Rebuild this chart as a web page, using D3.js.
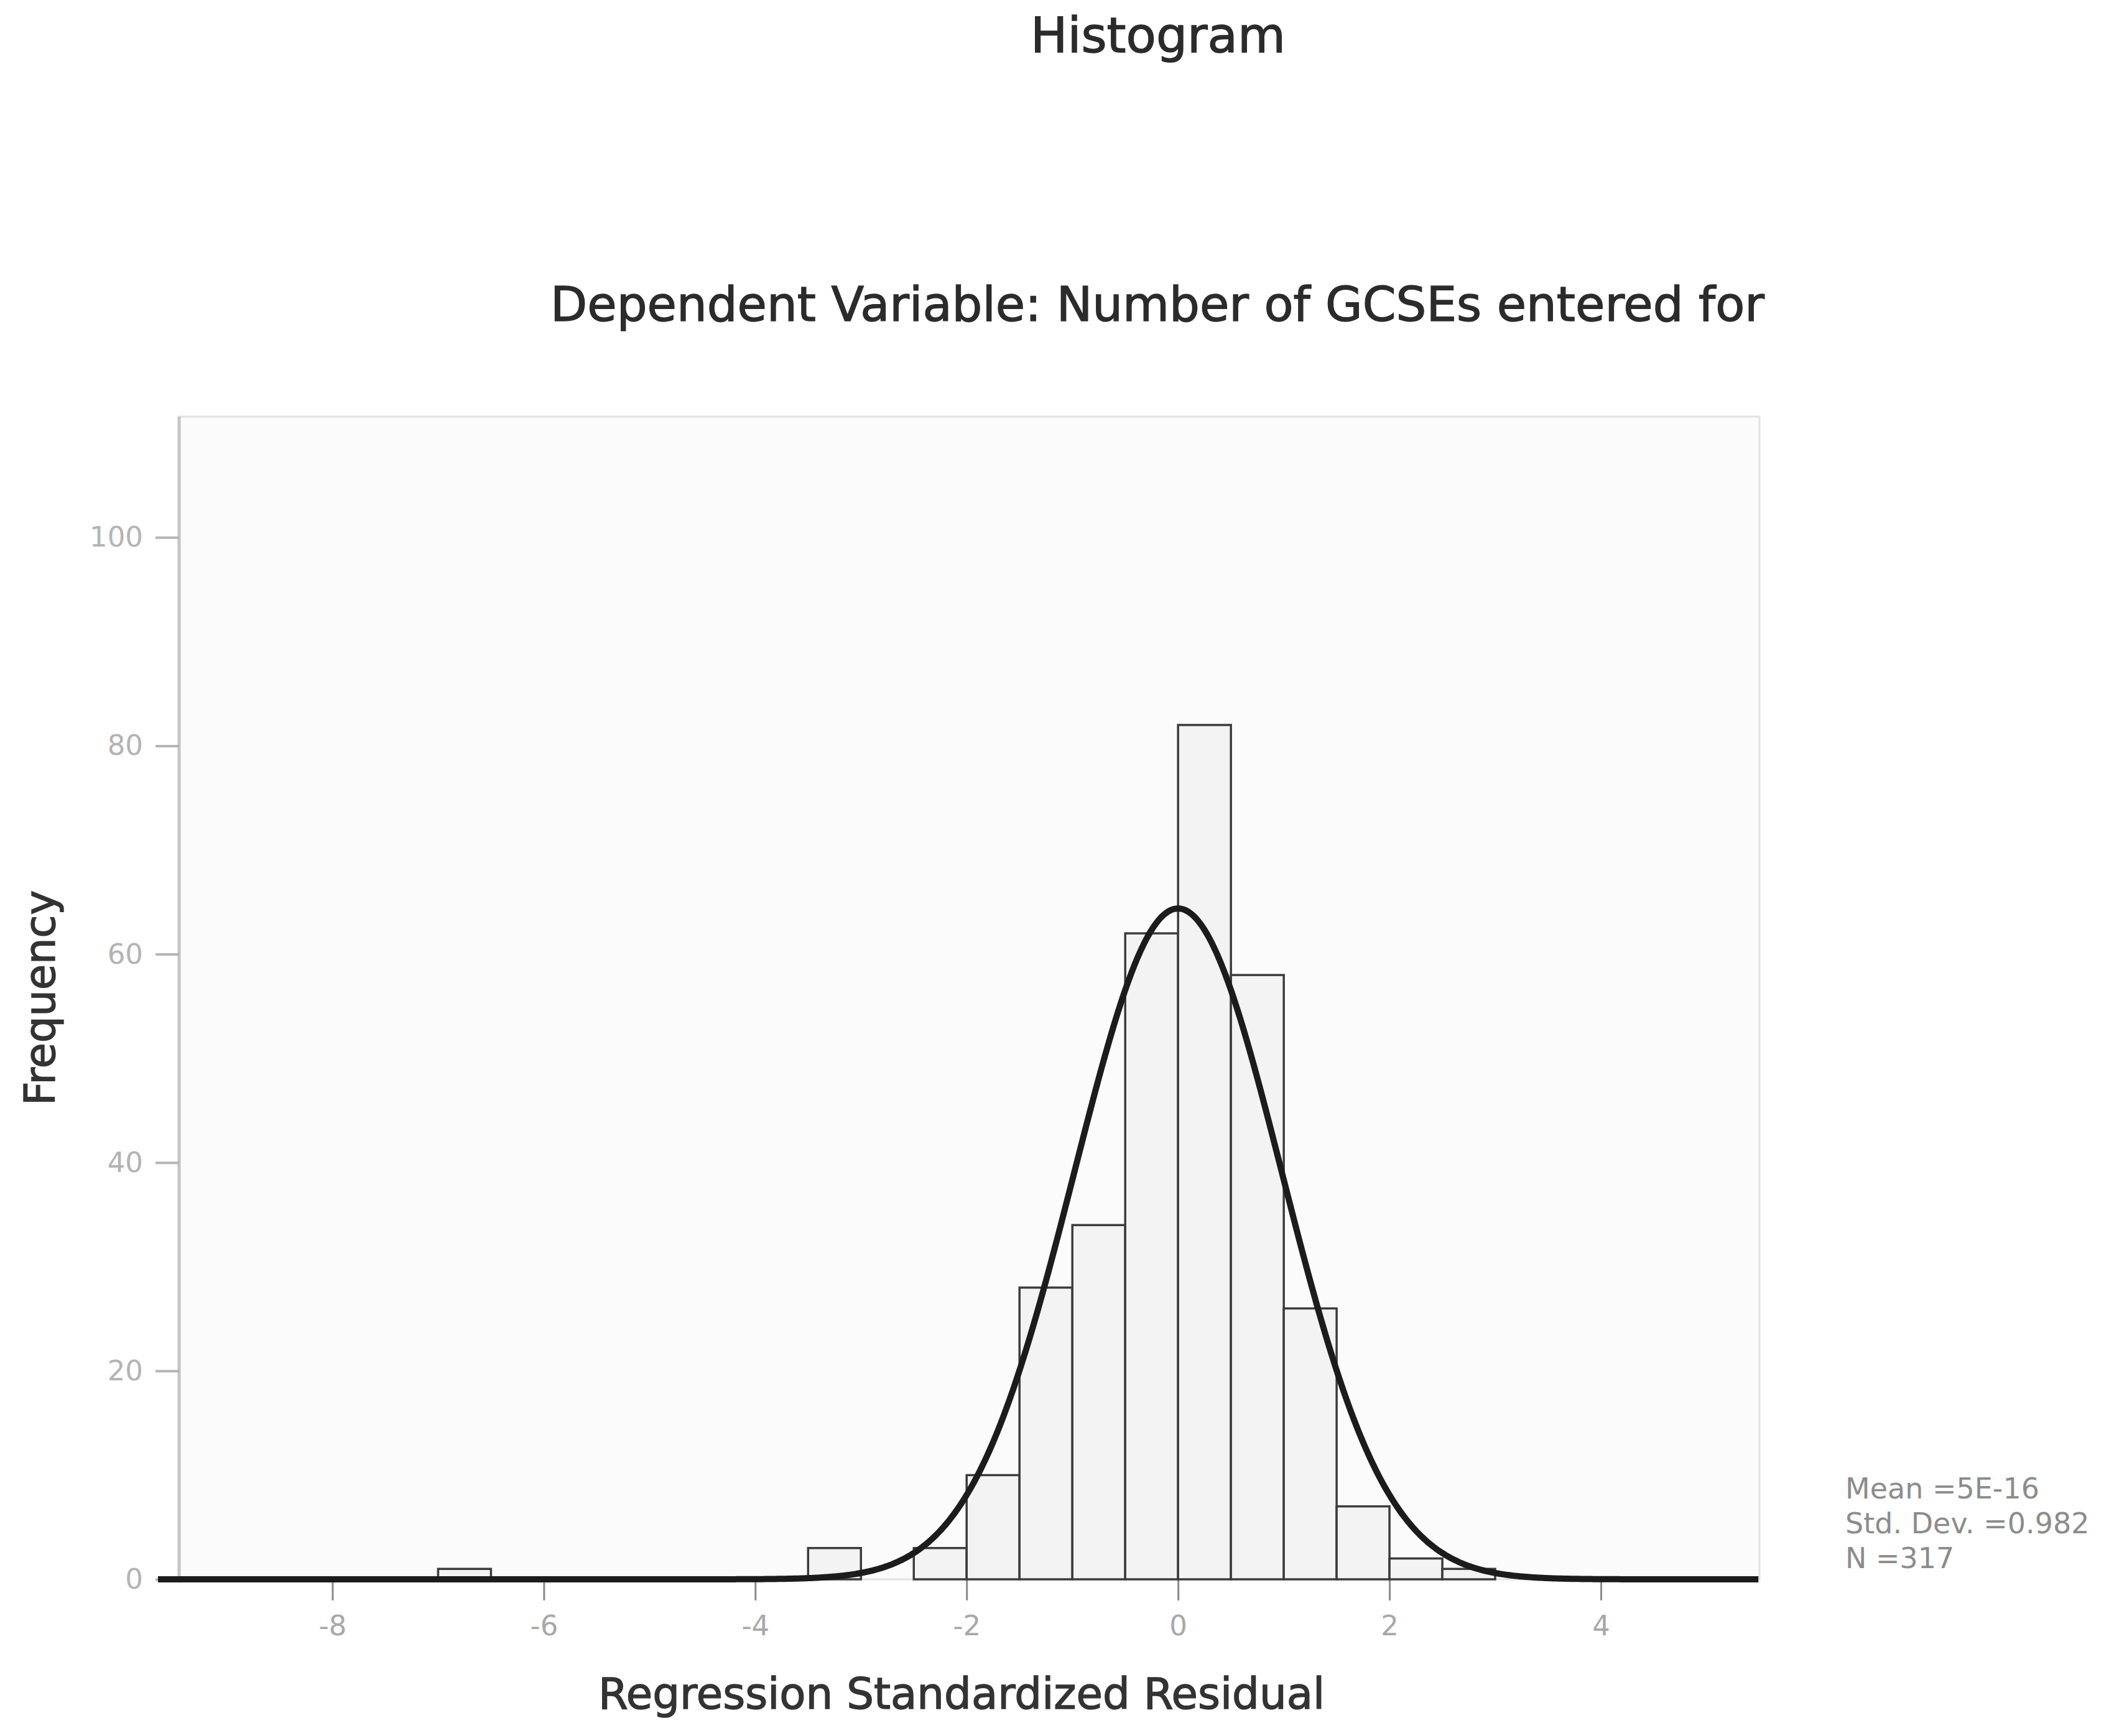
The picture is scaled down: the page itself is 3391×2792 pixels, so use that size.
<!DOCTYPE html>
<html>
<head>
<meta charset="utf-8">
<script src="https://cdn.jsdelivr.net/npm/d3@7"></script>
<style>
  html, body { margin: 0; padding: 0; background: #ffffff; }
  svg { display: block; }
  text { font-family: "DejaVu Sans", Verdana, sans-serif; }
</style>
</head>
<body>
<svg id="chart" width="3391" height="2792"></svg>
<script>
// Residual histogram: bins of width 0.5, counts per bin
const binStart = [-7, -3.5, -2.5, -2, -1.5, -1, -0.5, 0, 0.5, 1, 1.5, 2, 2.5];
const binCount = [1, 3, 3, 10, 28, 34, 62, 82, 58, 26, 7, 2, 1];
const binWidth = 0.5;

// Summary statistics shown beside the plot
const statMean = 5e-16;
const statSD = 0.982;
const statN = 317;
const statLines = ["Mean =5E-16", "Std. Dev. =0.982", "N =317"];

// Axis ticks
const xTicks = [-8, -6, -4, -2, 0, 2, 4];
const yTicks = [0, 20, 40, 60, 80, 100];

const titleText = "Histogram";
const subtitleText = "Dependent Variable: Number of GCSEs entered for";
const xTitle = "Regression Standardized Residual";
const yTitle = "Frequency";

const frame = { left: 288, right: 2829, top: 670, bottom: 2540 };

const svg = d3.select("#chart");

const x = d3.scaleLinear().domain([-9.45, 5.5]).range([frame.left, frame.right]);
const y = d3.scaleLinear().domain([0, 111.6]).range([frame.bottom, frame.top]);

// Titles (slight stroke gives the medium weight of the heading font)
function heading(sel) {
  return sel.attr("fill", "#2b2b2b").attr("stroke", "#2b2b2b").attr("stroke-width", 1.4);
}

heading(svg.append("text")
  .attr("x", 1862).attr("y", 84)
  .attr("text-anchor", "middle")
  .attr("font-size", 79))
  .text(titleText);

heading(svg.append("text")
  .attr("x", 1861).attr("y", 516)
  .attr("text-anchor", "middle")
  .attr("font-size", 77))
  .text(subtitleText);

// Plot frame
svg.append("rect")
  .attr("x", frame.left).attr("y", frame.top)
  .attr("width", frame.right - frame.left)
  .attr("height", frame.bottom - frame.top)
  .attr("fill", "#fbfbfb")
  .attr("stroke", "#e2e2e2")
  .attr("stroke-width", 3);

// Left axis line
svg.append("line")
  .attr("x1", frame.left).attr("x2", frame.left)
  .attr("y1", frame.top).attr("y2", frame.bottom)
  .attr("stroke", "#c4c4c4").attr("stroke-width", 5);

// Y axis
const yAxis = svg.append("g")
  .attr("transform", `translate(${frame.left},0)`)
  .call(d3.axisLeft(y).tickValues(yTicks).tickSize(38).tickPadding(20).tickFormat(d => String(d)));
yAxis.select(".domain").remove();
yAxis.selectAll(".tick line").attr("stroke", "#b5b5b5").attr("stroke-width", 4);
yAxis.selectAll(".tick text")
  .attr("font-size", 45).attr("fill", "#b3b3b3")
  .style("font-family", "\"DejaVu Sans\", sans-serif");

// X axis
const xAxis = svg.append("g")
  .attr("transform", `translate(0,${frame.bottom})`)
  .call(d3.axisBottom(x).tickValues(xTicks).tickSize(34).tickPadding(24).tickFormat(d => d < 0 ? "-" + Math.abs(d) : String(d)));
xAxis.select(".domain").remove();
xAxis.selectAll(".tick line").attr("stroke", "#8a8a8a").attr("stroke-width", 3);
xAxis.selectAll(".tick text")
  .attr("font-size", 45).attr("fill", "#a8a8a8")
  .style("font-family", "\"DejaVu Sans\", sans-serif");

// Axis titles
heading(svg.append("text")
  .attr("x", 1546).attr("y", 2748)
  .attr("text-anchor", "middle")
  .attr("font-size", 69))
  .attr("fill", "#333333").attr("stroke", "#333333")
  .text(xTitle);

heading(svg.append("text")
  .attr("transform", `translate(88,${(frame.top + frame.bottom) / 2}) rotate(-90)`)
  .attr("text-anchor", "middle")
  .attr("font-size", 67))
  .attr("fill", "#333333").attr("stroke", "#333333")
  .text(yTitle);

// Bars
const bins = binStart.map((s, i) => ({ x0: s, x1: s + binWidth, n: binCount[i] }));
svg.append("g").selectAll("rect")
  .data(bins)
  .join("rect")
  .attr("x", d => x(d.x0))
  .attr("y", d => y(d.n))
  .attr("width", d => x(d.x1) - x(d.x0))
  .attr("height", d => y(0) - y(d.n))
  .attr("fill", "#f3f3f3")
  .attr("stroke", "#3c3c3c")
  .attr("stroke-width", 3.5);

// Normal curve scaled to counts: N * binWidth * pdf(x)
const pdf = v => Math.exp(-0.5 * ((v - statMean) / statSD) ** 2) / (statSD * Math.sqrt(2 * Math.PI));
const curveXs = d3.range(-9.65, 5.5001, 0.02);
const line = d3.line()
  .x(v => x(v))
  .y(v => y(statN * binWidth * pdf(v)))
  .curve(d3.curveBasis);
svg.append("path")
  .datum(curveXs)
  .attr("d", line)
  .attr("fill", "none")
  .attr("stroke", "#1c1c1c")
  .attr("stroke-width", 10)
  .attr("stroke-linejoin", "round");

// Statistics block
svg.append("g").selectAll("text")
  .data(statLines)
  .join("text")
  .attr("x", 2967)
  .attr("y", (d, i) => 2410 + i * 56)
  .attr("font-size", 46)
  .attr("fill", "#8c8c8c")
  .text(d => d);
</script>
</body>
</html>
